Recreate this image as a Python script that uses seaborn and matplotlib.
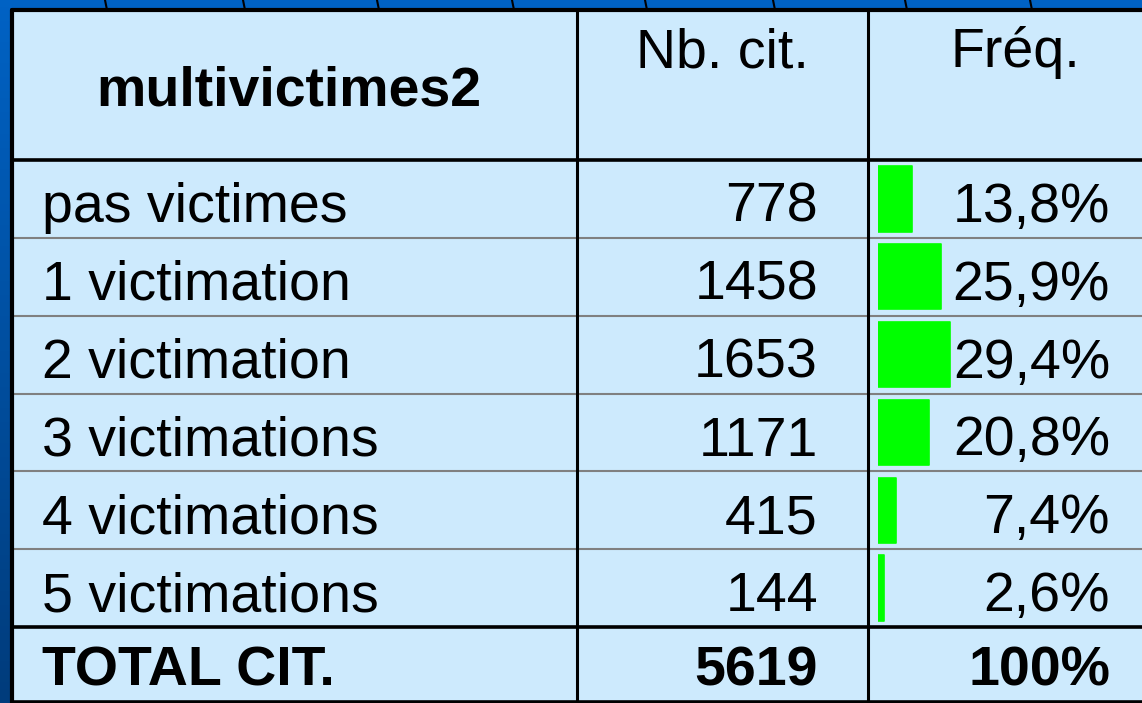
import numpy as np
import matplotlib
matplotlib.use('Agg')
import matplotlib.pyplot as plt
import seaborn as sns
from matplotlib.patches import Rectangle
from matplotlib.colors import LinearSegmentedColormap

sns.set_theme(style='white')
plt.rcParams['font.family'] = ['Liberation Sans', 'DejaVu Sans']

# === DONNEES ===
titre = 'multivictimes2'
entetes = ['Nb. cit.', 'Fréq.']
categories = ['pas victimes', '1 victimation', '2 victimation', '3 victimations',
              '4 victimations', '5 victimations']
effectifs = [778, 1458, 1653, 1171, 415, 144]
frequences = [13.8, 25.9, 29.4, 20.8, 7.4, 2.6]
total_label = 'TOTAL CIT.'
total = 5619
total_freq = '100%'

# === FIGURE ===
W, H = 1142, 703
fig = plt.figure(figsize=(W / 100, H / 100), dpi=100)
ax = fig.add_axes([0, 0, 1, 1])
ax.set_xlim(0, W)
ax.set_ylim(H, 0)
ax.axis('off')

# fond bleu degrade
cmap = LinearSegmentedColormap.from_list('fond', ['#0062c4', '#003c7c'])
ax.imshow(np.linspace(0, 1, 100).reshape(-1, 1), cmap=cmap, aspect='auto',
          extent=[0, W, H, 0], zorder=0)
# traits du tableau du dessus
for xl in [105, 243, 377, 512, 645, 773, 905, 1030]:
    ax.plot([xl, xl + 2], [0, 10], color='black', lw=1.5, zorder=1)

# fond du tableau
x0, y0 = 12, 10
ax.add_patch(Rectangle((x0, y0), W - x0, H - y0, facecolor='#cdeafd', edgecolor='none', zorder=1))

col1, col2 = 577, 868
head_bot = 160
row_h = (627 - head_bot) / len(categories)
row_tops = [head_bot + i * row_h for i in range(len(categories) + 1)]

# lignes grises entre les lignes
for yl in row_tops[1:-1]:
    ax.plot([x0, W], [yl, yl], color='#808080', lw=1.5, zorder=2)
# lignes noires
ax.plot([x0, W], [head_bot, head_bot], color='black', lw=2.6, zorder=3)
ax.plot([x0, W], [row_tops[-1], row_tops[-1]], color='black', lw=2.6, zorder=3)
ax.plot([x0, W], [y0, y0], color='black', lw=3, zorder=3)
ax.plot([x0, W], [702, 702], color='black', lw=2.6, zorder=3)
ax.plot([x0, x0], [y0, H], color='black', lw=3, zorder=3)
for xl in [col1, col2]:
    ax.plot([xl, xl], [y0, H], color='black', lw=2.2, zorder=3)

# === BARRES DES FREQUENCES ===
bar_left = 878
px_par_pct = 2.45
axb = fig.add_axes([bar_left / W, 1 - row_tops[-1] / H, (W - bar_left) / W, (row_tops[-1] - head_bot) / H])
sns.barplot(x=frequences, y=categories, orient='h', color='#00ff00', saturation=1,
            width=0.84, linewidth=0, ax=axb)
for p in axb.patches:
    p.set_joinstyle('round')
    p.set_edgecolor('#00ff00')
    p.set_linewidth(1.2)
axb.set_xlim(0, (W - bar_left) / px_par_pct)
axb.set_ylim(len(categories) - 0.5, -0.5)
axb.axis('off')
axb.patch.set_alpha(0)

# === TEXTES ===
def put(x, y, s, **kw):
    axb.text(x, y, s, transform=ax.transData, color='black', clip_on=False, **kw)

put(289, 105, titre, fontsize=40, fontweight='bold', ha='center', va='baseline')
put(722, 67, entetes[0], fontsize=40, ha='center', va='baseline')
put(1015, 67, entetes[1], fontsize=40, ha='center', va='baseline')

for i, (cat, n, f) in enumerate(zip(categories, effectifs, frequences)):
    base = row_tops[i] + 62
    put(42, base, cat, fontsize=40, ha='left', va='baseline')
    put(818, base, str(n), fontsize=40, ha='right', va='baseline')
    put(1110, base, f'{f:.1f}'.replace('.', ',') + '%', fontsize=40, ha='right', va='baseline')

base = row_tops[-1] + 59
put(42, base, total_label, fontsize=40, fontweight='bold', ha='left', va='baseline')
put(818, base, str(total), fontsize=40, fontweight='bold', ha='right', va='baseline')
put(1110, base, total_freq, fontsize=40, fontweight='bold', ha='right', va='baseline')

fig.savefig('out.png', dpi=100)
